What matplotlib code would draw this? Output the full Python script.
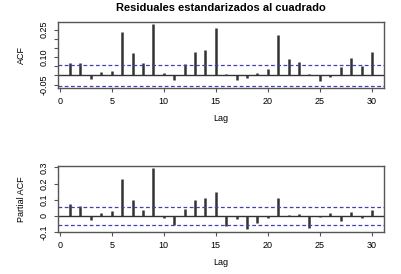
import numpy as np
import matplotlib.pyplot as plt

plt.rcParams['font.family'] = ['Liberation Sans', 'DejaVu Sans']

lags = np.arange(1, 31)
acf_vals = [0.070, 0.067, -0.020, 0.018, 0.025, 0.238, 0.124, 0.067, 0.283, 0.013,
            -0.022, 0.060, 0.130, 0.140, 0.260, 0.009, -0.023, -0.014, 0.014, 0.034,
            0.220, 0.092, 0.076, 0.009, -0.032, -0.007, 0.045, 0.094, 0.052, 0.126]
pacf_vals = [0.074, 0.064, -0.025, 0.020, 0.029, 0.230, 0.100, 0.035, 0.296, -0.012,
             -0.055, 0.045, 0.099, 0.110, 0.146, -0.060, -0.020, -0.082, -0.043, -0.016,
             0.113, 0.004, 0.012, -0.072, -0.004, 0.016, -0.031, 0.025, -0.012, 0.035]
clim = 0.055

title = "Residuales estandarizados al cuadrado"
acf_ticks = [-0.05, 0.0, 0.05, 0.10, 0.15, 0.20, 0.25]
acf_ticklabels = ["-0.05", "", "", "0.10", "", "", "0.25"]
pacf_ticks = [-0.1, 0.0, 0.1, 0.2, 0.3]
pacf_ticklabels = ["-0.1", "0", "0.1", "0.2", "0.3"]

fig = plt.figure(figsize=(4.01, 2.74), dpi=100)
ax1 = fig.add_axes([0.1446, 0.679, 0.813, 0.241])
ax2 = fig.add_axes([0.1446, 0.153, 0.813, 0.241])


def draw_panel(ax, vals, ylab, ylim, yt, ytl):
    ax.vlines(lags, 0, vals, color='#333333', lw=1.8)
    ax.axhline(0, color='#333333', lw=1.0)
    ax.axhline(clim, color='#4040b0', lw=0.9, ls=(0, (3, 2)))
    ax.axhline(-clim, color='#4040b0', lw=0.9, ls=(0, (3, 2)))
    ax.set_xlim(-0.16, 31.16)
    ax.set_ylim(*ylim)
    ax.set_xticks(range(0, 31, 5))
    ax.set_yticks(yt)
    ax.set_yticklabels(ytl, rotation=90, va='center')
    ax.tick_params(labelsize=6.5, length=3, width=0.8, color='#555555', pad=3.5)
    for s in ax.spines.values():
        s.set_color('#555555')
        s.set_linewidth(1.0)
    ax.set_xlabel("Lag", fontsize=6.5, labelpad=6)
    ax.set_ylabel(ylab, fontsize=6.5, labelpad=10)


draw_panel(ax1, acf_vals, "ACF", (-0.068, 0.292), acf_ticks, acf_ticklabels)
draw_panel(ax2, pacf_vals, "Partial ACF", (-0.097, 0.308), pacf_ticks, pacf_ticklabels)
ax1.set_title(title, fontsize=8, fontweight='bold', pad=8)

fig.savefig("out.png", dpi=100)
